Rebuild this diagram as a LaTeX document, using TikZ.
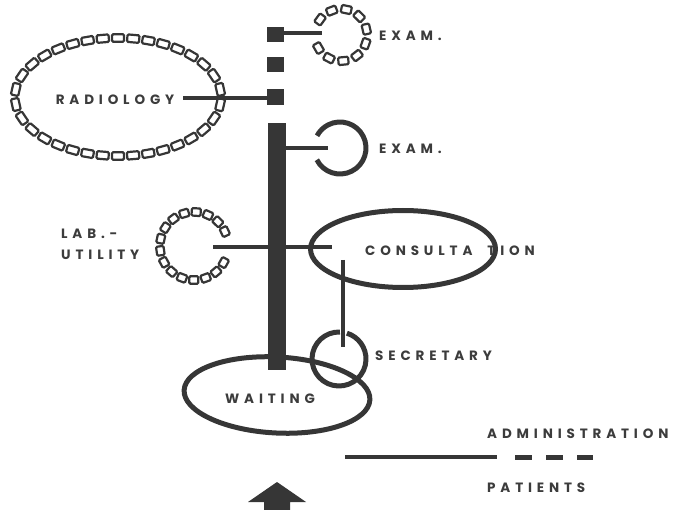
\documentclass[tikz,border=0pt]{standalone}
\usepackage{fontspec}
\newfontfamily\planfont[LetterSpace=36]{Poppins}
\usetikzlibrary{calc,decorations.markings}
\definecolor{ink}{HTML}{363636}
\definecolor{txt}{HTML}{3C3C3C}

\begin{document}
\begin{tikzpicture}[x=1pt,y=1pt,
  wall/.style={draw=ink, line width=5pt},
  link/.style={draw=ink, line width=3.8pt},
  thin link/.style={draw=ink, line width=3.2pt},
  lbl/.style={text=txt, font=\planfont\bfseries\fontsize{13.5}{15}\selectfont, inner sep=0pt},
  cell/.style={draw=ink, fill=white, line width=2.2pt, rounded corners=1.2pt,
    inner sep=0pt, minimum width=#1, minimum height=7.5pt, transform shape},
  block/.style={fill=ink, inner sep=0pt, minimum width=17pt, minimum height=#1},
]
\useasboundingbox (0,0) rectangle (674,-510);

% ---- centres of the rooms
\coordinate (radC) at (118,-97);
\coordinate (ex1C) at (341,-35);
\coordinate (ex2C) at (340,-148);
\coordinate (labC) at (194,-246);
\coordinate (conC) at (403,-249);
\coordinate (secC) at (339,-359);
\coordinate (waiC) at (277,-395);

% ---- main circulation spine and the three blocks above it
\node[block=247pt, minimum width=18pt] (spine) at (277,-246.5) {};
\node[block=15pt] (sq1) at (275.5,-35) {};
\node[block=15pt] (sq2) at (275.5,-65) {};
\node[block=16pt] (sq3) at (275.5,-97) {};

% ---- rooms drawn as chains of hollow cells
\path[decorate, decoration={markings,
  mark=between positions 0.0147 and 1 step 0.0294 with {\node[cell=12pt]{};}}]
  (radC) ellipse[x radius=103, y radius=59];
\path[decorate, decoration={markings,
  mark=between positions 0.04 and 1 step 0.1 with {\node[cell=10pt]{};}}]
  ($(ex1C)+(-163:26)$) arc[start angle=-163, end angle=163, radius=26];
\path[decorate, decoration={markings,
  mark=between positions 0.025 and 1 step 0.0625 with {\node[cell=9pt]{};}}]
  ($(labC)+(17:34)$) arc[start angle=17, end angle=343, radius=34];

% ---- rooms drawn as solid rings
\draw[wall] ($(ex2C)+(-153:26)$) arc[start angle=-153, end angle=152, radius=26];
\draw[wall] ($(secC)+(88:27)$) arc[start angle=88, end angle=433, radius=27];
\draw[wall, rotate around={-3:(waiC)}] (waiC) ellipse[x radius=93, y radius=38];

% ---- labels
\node[lbl] (radT) at (115,-100) {RADIOLOGY};
\node[lbl, anchor=west] (ex1T) at (379,-36) {EXAM.};
\node[lbl, anchor=west] (ex2T) at (379,-149) {EXAM.};
\node[lbl, anchor=west, align=left, font=\planfont\bfseries\fontsize{13.5}{21}\selectfont] (labT) at (61,-244) {LAB.-\\UTILITY};
\node[lbl, anchor=west] (conT) at (365,-251) {CONSULTA\hspace{15pt}TION};
\node[lbl, anchor=west] (secT) at (375,-356) {SECRETARY};
\node[lbl] (waiT) at (270,-399) {WAITING};
\node[lbl, anchor=west] (admT) at (487,-434) {ADMINISTRATION};
\node[lbl, anchor=west] (patT) at (487,-488) {PATIENTS};

\draw[wall] (conC) ellipse[x radius=92.5, y radius=38.5];

% ---- connections between spine and rooms
\coordinate (e1) at ($(ex1C)+(-19,2)$);
\coordinate (e2) at ($(ex2C)+(-12,0)$);
\coordinate (rad) at (183,-98);
\coordinate (labL) at (213,-247);
\coordinate (conL) at (332,-247);
\coordinate (conB) at (343,-260);
\coordinate (secT0) at (343,-347);
\draw[thin link] (sq1.east |- e1) -- (e1);
\draw[link] (rad) -- (sq3.west |- rad);
\draw[link] (spine.east |- e2) -- (e2);
\draw[link] (labL) -- (conL);
\draw[thin link] (conB) -- (secT0);

% ---- legend
\coordinate (lg1) at (345,-457);
\coordinate (lg2) at (497,-457);
\coordinate (lg3) at (515,-457);
\coordinate (lg4) at (593,-457);
\draw[link] (lg1) -- (lg2);
\draw[draw=ink, line width=5pt, dash pattern=on 17pt off 14pt] (lg3) -- (lg4);

% ---- entrance arrow
\fill[ink] (277,-482) -- (306,-502) -- (290,-502) -- (290,-510)
  -- (264,-510) -- (264,-502) -- (248,-502) -- cycle;
\end{tikzpicture}
\end{document}
